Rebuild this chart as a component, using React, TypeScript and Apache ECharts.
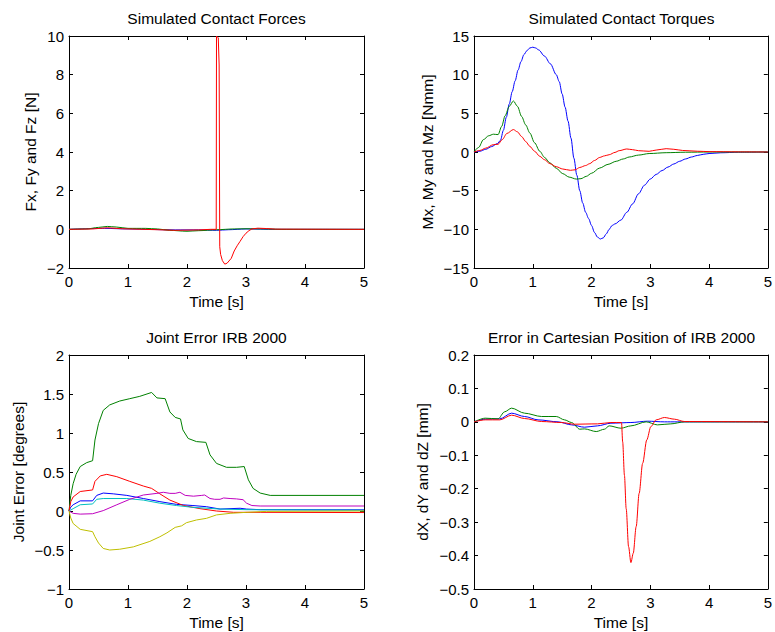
import React, { useEffect, useRef } from "react";
import * as echarts from "echarts";

type P = [number, number][];

// ---- Panel 1: Simulated Contact Forces ----
const forceFx: P = [[0,0],[0.6,0.05],[1.0,0.02],[1.8,-0.03],[2.2,-0.03],[2.5,-0.05],[2.7,-0.02],[3.0,0.02],[3.5,0],[5,0]];
const forceFy: P = [[0,0],[0.3,0.02],[0.5,0.1],[0.65,0.15],[0.8,0.12],[1.0,0.05],[1.3,0.05],[1.5,0.02],[1.7,-0.05],[2.0,-0.1],[2.2,-0.07],[2.5,-0.02],[2.8,0.02],[3.0,0.03],[3.3,0.02],[3.6,0],[5,0]];
const forceFz: P = [[0,0],[0.4,0.02],[0.65,0.08],[0.9,0.03],[1.5,-0.02],[1.8,-0.05],[2.2,-0.03],[2.4,0],[2.495,0],[2.5,10],[2.53,9.9],[2.545,8.5],[2.555,-0.9],[2.57,-1.3],[2.6,-1.62],[2.64,-1.8],[2.68,-1.75],[2.75,-1.5],[2.8,-1.12],[2.85,-0.85],[2.9,-0.62],[2.95,-0.38],[3.0,-0.2],[3.05,-0.07],[3.1,0.02],[3.2,0.06],[3.35,0.04],[3.5,0.01],[5,0]];

// ---- Panel 2: Simulated Contact Torques ----
const torqueMx: P = [[0,0],[0.1,0.1],[0.2,0.35],[0.3,0.7],[0.4,1.1],[0.45,1.5],[0.5,2.8],[0.55,4.5],[0.6,6.2],[0.65,7.8],[0.7,9.2],[0.75,10.6],[0.8,11.7],[0.85,12.6],[0.9,13.1],[0.95,13.45],[1.0,13.55],[1.05,13.45],[1.1,13.2],[1.2,12.4],[1.3,11.4],[1.4,10.0],[1.45,9.1],[1.5,7.5],[1.55,5.8],[1.6,4.0],[1.65,1.8],[1.7,-0.8],[1.75,-3.0],[1.8,-5.0],[1.85,-6.6],[1.9,-7.8],[1.95,-8.6],[2.0,-9.5],[2.05,-10.4],[2.1,-11.0],[2.15,-11.25],[2.2,-11.1],[2.25,-10.6],[2.3,-10.0],[2.35,-9.5],[2.4,-9.3],[2.5,-8.8],[2.6,-7.8],[2.7,-6.7],[2.8,-5.4],[2.9,-4.3],[3.0,-3.5],[3.1,-2.9],[3.2,-2.4],[3.3,-1.95],[3.4,-1.55],[3.5,-1.2],[3.6,-0.9],[3.7,-0.65],[3.8,-0.45],[3.9,-0.3],[4.0,-0.2],[4.2,-0.1],[4.5,-0.03],[5,0]];
const torqueMy: P = [[0,0],[0.08,0.6],[0.16,1.6],[0.25,2.1],[0.33,2.3],[0.41,2.25],[0.47,3.3],[0.53,4.7],[0.6,5.9],[0.67,6.6],[0.74,5.9],[0.81,4.6],[0.88,3.5],[0.95,2.46],[1.03,1.2],[1.12,0.09],[1.2,-0.7],[1.29,-1.4],[1.4,-2.1],[1.51,-2.8],[1.62,-3.25],[1.74,-3.5],[1.82,-3.45],[1.91,-3.15],[2.0,-2.75],[2.14,-2.07],[2.28,-1.6],[2.42,-1.2],[2.54,-0.9],[2.64,-0.65],[2.8,-0.4],[2.98,-0.2],[3.27,-0.09],[3.6,-0.03],[4.0,0],[5,0]];
const torqueMz: P = [[0,0],[0.1,0.2],[0.2,0.5],[0.33,0.95],[0.41,1.0],[0.48,1.6],[0.56,2.4],[0.67,2.9],[0.74,2.6],[0.81,2.0],[0.88,1.35],[0.95,0.73],[1.03,0.1],[1.12,-0.56],[1.2,-1.0],[1.29,-1.5],[1.4,-1.9],[1.51,-2.2],[1.64,-2.37],[1.72,-2.3],[1.8,-2.0],[1.9,-1.75],[1.97,-1.5],[2.05,-1.1],[2.14,-0.7],[2.22,-0.5],[2.3,-0.35],[2.4,-0.05],[2.47,0.17],[2.6,0.39],[2.7,0.3],[2.8,0.17],[2.98,0.09],[3.1,0.25],[3.27,0.43],[3.4,0.35],[3.55,0.2],[3.8,0.1],[4.0,0.05],[4.5,0.02],[5,0]];

// ---- Panel 3: Joint Error IRB 2000 ----
const jointBlue: P = [[0,0],[0.03,0.05],[0.07,0.08],[0.19,0.13],[0.4,0.13],[0.47,0.2],[0.58,0.23],[0.75,0.22],[0.98,0.2],[1.26,0.16],[1.54,0.12],[1.82,0.085],[2.1,0.07],[2.33,0.055],[2.56,0.025],[2.9,0.035],[3.01,0.025],[3.24,0.017],[5,0.015]];
const jointGreen: P = [[0,0],[0.03,0.2],[0.07,0.35],[0.12,0.47],[0.19,0.57],[0.3,0.62],[0.4,0.645],[0.44,0.91],[0.5,1.12],[0.58,1.29],[0.69,1.36],[0.86,1.41],[1.03,1.44],[1.2,1.47],[1.4,1.52],[1.49,1.45],[1.63,1.44],[1.71,1.27],[1.8,1.2],[1.89,1.18],[1.93,1.04],[2.02,0.93],[2.16,0.89],[2.32,0.88],[2.39,0.72],[2.5,0.61],[2.67,0.56],[2.84,0.56],[2.97,0.57],[3.04,0.4],[3.12,0.29],[3.24,0.23],[3.41,0.2],[5,0.2]];
const jointRed: P = [[0,0],[0.03,0.12],[0.07,0.18],[0.19,0.25],[0.4,0.27],[0.44,0.38],[0.53,0.45],[0.64,0.47],[0.81,0.44],[1.03,0.38],[1.26,0.32],[1.4,0.29],[1.54,0.22],[1.71,0.14],[1.94,0.07],[2.22,0.03],[2.5,0],[2.79,-0.017],[3.24,-0.017],[5,-0.02]];
const jointCyan: P = [[0,0],[0.07,0.03],[0.19,0.08],[0.4,0.09],[0.47,0.15],[0.58,0.16],[0.98,0.16],[1.26,0.14],[1.54,0.1],[1.82,0.07],[2.1,0.047],[2.56,0.025],[3.0,0.017],[5,0.01]];
const jointMagenta: P = [[0,0],[0.07,-0.03],[0.19,-0.04],[0.4,-0.035],[0.58,0.005],[0.81,0.08],[1.03,0.15],[1.26,0.205],[1.49,0.226],[1.6,0.24],[1.71,0.226],[1.8,0.226],[1.88,0.24],[1.97,0.2],[2.11,0.19],[2.25,0.2],[2.3,0.205],[2.39,0.16],[2.47,0.15],[2.56,0.15],[2.62,0.167],[2.73,0.16],[2.84,0.155],[2.95,0.145],[3.01,0.1],[3.1,0.07],[3.24,0.064],[5,0.064]];
const jointYellow: P = [[0,0],[0.03,-0.09],[0.07,-0.16],[0.19,-0.235],[0.4,-0.265],[0.44,-0.33],[0.5,-0.41],[0.58,-0.48],[0.69,-0.5],[0.86,-0.49],[1.09,-0.46],[1.37,-0.39],[1.54,-0.33],[1.66,-0.28],[1.8,-0.21],[1.91,-0.19],[1.99,-0.15],[2.16,-0.115],[2.33,-0.094],[2.5,-0.05],[2.73,-0.03],[3.01,-0.017],[3.35,-0.005],[5,0]];

// ---- Panel 4: Error in Cartesian Position of IRB 2000 ----
const cartBlue: P = [[0,0],[0.19,0.008],[0.44,0.009],[0.64,0.026],[0.86,0.016],[1.09,0.006],[1.43,0],[1.66,-0.009],[1.88,-0.016],[2.1,-0.012],[2.33,-0.004],[2.67,-0.002],[2.95,0.002],[3.24,0],[5,0]];
const cartGreen: P = [[0,0],[0.19,0.011],[0.41,0.009],[0.52,0.03],[0.64,0.041],[0.86,0.026],[1.15,0.016],[1.4,0.016],[1.54,0.006],[1.66,-0.002],[1.8,-0.022],[1.88,-0.021],[2.08,-0.029],[2.22,-0.022],[2.3,-0.012],[2.5,-0.019],[2.67,-0.012],[2.93,0],[3.12,-0.009],[3.35,-0.006],[3.58,0],[5,0]];
const cartRed: P = [[0,0],[0.19,0.006],[0.44,0.006],[0.64,0.02],[0.86,0.01],[1.15,0.001],[1.49,-0.002],[1.71,-0.007],[2.1,-0.006],[2.33,-0.002],[2.51,-0.002],[2.53,-0.06],[2.56,-0.16],[2.59,-0.26],[2.63,-0.373],[2.67,-0.421],[2.71,-0.393],[2.76,-0.313],[2.81,-0.214],[2.87,-0.124],[2.94,-0.054],[3.01,-0.014],[3.1,0.006],[3.24,0.013],[3.41,0.008],[3.58,0.001],[5,0]];

const titles = ["Simulated Contact Forces", "Simulated Contact Torques", "Joint Error IRB 2000", "Error in Cartesian Position of IRB 2000"];
const yNames = ["Fx, Fy and Fz [N]", "Mx, My and Mz [Nmm]", "Joint Error [degrees]", "dX, dY and dZ [mm]"];
const yRanges: [number, number, number][] = [[-2, 10, 2], [-15, 15, 5], [-1, 2, 0.5], [-0.5, 0.2, 0.1]];
const xTicks = [0, 5, 1];

const FONT = "'Liberation Sans', Arial, Helvetica, sans-serif";
const C = { b: "#0000ff", g: "#008000", r: "#ff0000", c: "#00bfbf", m: "#bf00bf", y: "#bfbf00" };

const grids = [
  { left: 69, top: 36, width: 295, height: 232 },
  { left: 474, top: 36, width: 295, height: 232 },
  { left: 69, top: 355, width: 295, height: 234 },
  { left: 474, top: 355, width: 295, height: 234 },
];
const yNameGaps = [31, 39, 43, 44];

function fmt(v: number) {
  const r = Math.round(v * 1000) / 1000;
  const s = String(Math.abs(r));
  return r < 0 ? "\u2212" + s : s;
}

export default function App() {
  const ref = useRef<HTMLDivElement>(null);
  useEffect(() => {
    if (!ref.current) return;
    const chart = echarts.init(ref.current, null, { renderer: "svg" });
    const lineStyleAxis = { color: "#000", width: 1 };
    const xAxis: any[] = [];
    const yAxis: any[] = [];
    grids.forEach((_, i) => {
      const base = {
        gridIndex: i, type: "value", min: xTicks[0], max: xTicks[1], interval: xTicks[2],
        splitLine: { show: false },
        axisLine: { show: true, onZero: false, lineStyle: lineStyleAxis },
        axisTick: { show: true, inside: true, length: 4, lineStyle: lineStyleAxis },
      };
      xAxis.push({
        ...base, position: "bottom",
        axisLabel: { color: "#000", fontSize: 15, margin: 6, fontFamily: FONT },
        name: "Time [s]", nameLocation: "middle", nameGap: 25,
        nameTextStyle: { color: "#000", fontSize: 15.5, fontFamily: FONT },
      });
      xAxis.push({ ...base, position: "top", axisLabel: { show: false } });
      const [mn, mx, iv] = yRanges[i];
      const ybase = {
        gridIndex: i, type: "value", min: mn, max: mx, interval: iv,
        splitLine: { show: false },
        axisLine: { show: true, onZero: false, lineStyle: lineStyleAxis },
        axisTick: { show: true, inside: true, length: 4, lineStyle: lineStyleAxis },
      };
      yAxis.push({
        ...ybase, position: "left",
        axisLabel: { color: "#000", fontSize: 15, margin: 5, fontFamily: FONT, formatter: fmt },
        name: yNames[i], nameLocation: "middle", nameGap: yNameGaps[i],
        nameTextStyle: { color: "#000", fontSize: 15.5, fontFamily: FONT },
      });
      yAxis.push({ ...ybase, position: "right", axisLabel: { show: false } });
    });

    const mk = (grid: number, data: P, color: string, smooth: boolean | number = false) => ({
      type: "line", xAxisIndex: grid * 2, yAxisIndex: grid * 2, data, showSymbol: false, symbol: "none",
      smooth, smoothMonotone: smooth ? "x" : undefined,
      lineStyle: { color, width: 1 }, itemStyle: { color }, clip: true,
    });

    const series = [
      mk(0, forceFx, C.b, 0.3), mk(0, forceFy, C.g, 0.3), mk(0, forceFz, C.r),
      mk(1, torqueMx, C.b, 0.3), mk(1, torqueMy, C.g, 0.3), mk(1, torqueMz, C.r, 0.3),
      mk(2, jointBlue, C.b), mk(2, jointGreen, C.g), mk(2, jointRed, C.r),
      mk(2, jointCyan, C.c), mk(2, jointMagenta, C.m), mk(2, jointYellow, C.y),
      mk(3, cartBlue, C.b, 0.3), mk(3, cartGreen, C.g, 0.3), mk(3, cartRed, C.r, 0.3),
    ];

    const titleGraphics = grids.map((g, i) => ({
      type: "text", x: g.left + g.width / 2, y: g.top - 18,
      style: { text: titles[i], textAlign: "center", textVerticalAlign: "middle", fill: "#000", fontSize: 15.5, fontFamily: FONT },
    }));

    chart.setOption({
      animation: false,
      backgroundColor: "#fff",
      grid: grids.map((g) => ({ ...g, containLabel: false })),
      xAxis, yAxis, series,
      graphic: titleGraphics,
    });
    return () => chart.dispose();
  }, []);
  return <div ref={ref} style={{ position: "fixed", left: 0, top: 0, width: 775, height: 632, background: "#fff" }} />;
}
